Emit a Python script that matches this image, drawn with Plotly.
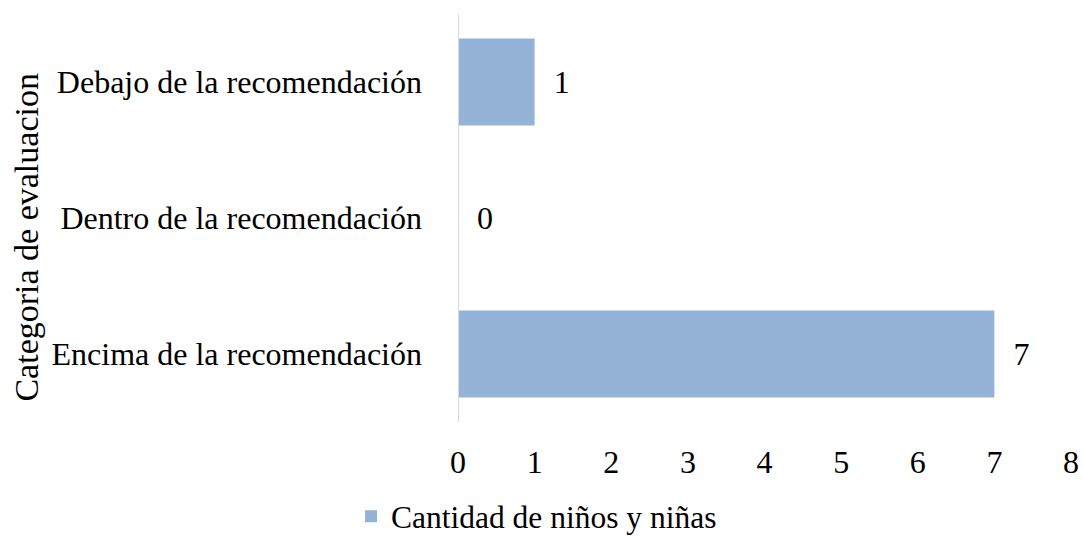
import plotly.graph_objects as go

categories = ["Encima de la recomendación", "Dentro de la recomendación", "Debajo de la recomendación"]
values = [7, 0, 1]
series_name = "Cantidad de niños y niñas"
x_ticks = [0, 1, 2, 3, 4, 5, 6, 7, 8]
y_title = "Categoria de evaluacion"

FONT = "Liberation Serif, Times New Roman, serif"
FS = 32
FS_LEG = 31.5
FS_TITLE = 34

W, H = 1083, 536

fig = go.Figure()
fig.add_trace(go.Bar(
    y=categories, x=values, orientation="h", name=series_name,
    marker=dict(color="#95B3D7", line=dict(width=0)),
    width=0.64,
    texttemplate="\u00a0\u00a0%{x}", textposition="outside",
    textfont=dict(family=FONT, size=FS, color="black"),
    cliponaxis=False,
))

fig.update_layout(
    width=W, height=H,
    margin=dict(l=458, r=12, t=14, b=114, autoexpand=False),
    paper_bgcolor="white", plot_bgcolor="white",
    font=dict(family=FONT, size=FS, color="black"),
    showlegend=True,
    legend=dict(orientation="h", x=0.4954, xanchor="center", y=0.037, yanchor="middle",
                xref="container", yref="container", bgcolor="rgba(0,0,0,0)",
                font=dict(family=FONT, size=FS_LEG, color="black"),
                itemwidth=30),
    xaxis=dict(range=[0, 8], tickvals=x_ticks, showgrid=False, zeroline=False,
               showline=False, ticks="", ticklabelstandoff=18, automargin=False,
               tickfont=dict(family=FONT, size=FS, color="black")),
    yaxis=dict(categoryorder="array", categoryarray=categories, showgrid=False,
               zeroline=False, showline=False, ticks="", ticklabelstandoff=35, automargin=False,
               tickfont=dict(family=FONT, size=FS, color="black")),
    shapes=[dict(type="line", xref="x", yref="paper", x0=0, x1=0, y0=0, y1=1,
                 line=dict(color="#D9D9D9", width=2))],
    annotations=[dict(text=y_title, textangle=-90, xref="paper", yref="paper",
                      x=(27 - 458) / 613, y=0.452, xanchor="center", yanchor="middle",
                      showarrow=False, font=dict(family=FONT, size=FS_TITLE, color="black"))],
)

fig.write_html("out.html", config={"displayModeBar": False},
               post_script="document.body.style.margin='0';document.body.style.overflow='hidden';")
